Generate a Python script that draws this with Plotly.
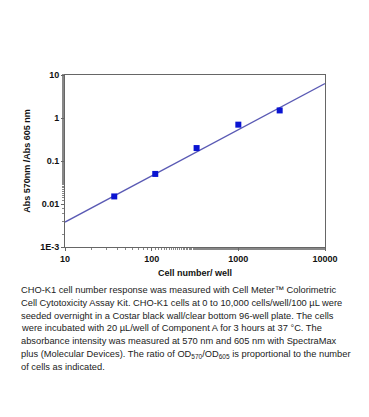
import plotly.graph_objects as go

cells = [37, 110, 330, 1000, 3000]
ratio = [0.015, 0.05, 0.2, 0.7, 1.5]
fit_x = [10, 10000]
fit_y = [0.0038, 6.3]

x_ticks = [10, 100, 1000, 10000]
x_tick_text = ["10", "100", "1000", "10000"]
y_ticks = [0.001, 0.01, 0.1, 1, 10]
y_tick_text = ["1E-3", "0.01", "0.1", "1", "10"]

caption_lines = [
    "CHO-K1 cell number response was measured with Cell Meter™ Colorimetric",
    "Cell Cytotoxicity Assay Kit. CHO-K1 cells at 0 to 10,000 cells/well/100 µL were",
    "seeded overnight in a Costar black wall/clear bottom 96-well plate. The cells",
    "were incubated with 20 µL/well of Component A for 3 hours at 37 °C. The",
    "absorbance intensity was measured at 570 nm and 605 nm with SpectraMax",
    "plus (Molecular Devices). The ratio of OD<sub>570</sub>/OD<sub>605</sub> is proportional to the number",
    "of cells as indicated.",
]

# page has an 8px body margin
W, H = 361, 409
ml, mt = 57, 67
pw, ph = 260, 172
mr = W - ml - pw
mb = H - mt - ph

fig = go.Figure()
fig.add_trace(go.Scatter(x=fit_x, y=fit_y, mode="lines",
                         line=dict(color="#5a5ab4", width=1.3), hoverinfo="skip"))
fig.add_trace(go.Scatter(x=cells, y=ratio, mode="markers",
                         marker=dict(symbol="square", size=6, color="#0a14d2")))

axis_font = dict(family="Liberation Sans, Arial", size=9, color="#111")
tick_font = dict(family="Liberation Sans, Arial", size=9, color="#111", weight="bold")
common = dict(type="log", showgrid=False, zeroline=False, showline=True, linecolor="#666",
              linewidth=1, mirror=True, ticks="outside", ticklen=3, tickcolor="#666",
              minor=dict(ticks="outside", ticklen=2, tickcolor="#888", showgrid=False),
              tickfont=tick_font)
fig.update_xaxes(range=[1, 4], tickvals=x_ticks, ticktext=x_tick_text,
                 title=dict(text="<b>Cell number/ well</b>", font=axis_font, standoff=6), **common)
fig.update_yaxes(range=[-3, 1], tickvals=y_ticks, ticktext=y_tick_text,
                 title=dict(text="<b>Abs 570nm /Abs 605 nm</b>", font=axis_font, standoff=8), **common)

first_center = 290 - 8  # figure px
spacing = 12.8
for i, line in enumerate(caption_lines):
    yc = first_center + i * spacing
    fig.add_annotation(text=line, xref="paper", yref="paper",
                       x=(19 - 8 - ml) / pw, y=-(yc - (mt + ph)) / ph,
                       xanchor="left", yanchor="middle", align="left", showarrow=False,
                       font=dict(family="Liberation Sans, Arial", size=9.3, color="#222"))

fig.update_layout(width=W, height=H, margin=dict(l=ml, r=mr, t=mt, b=mb),
                  paper_bgcolor="white", plot_bgcolor="white", showlegend=False)
fig.write_html("out.html")
